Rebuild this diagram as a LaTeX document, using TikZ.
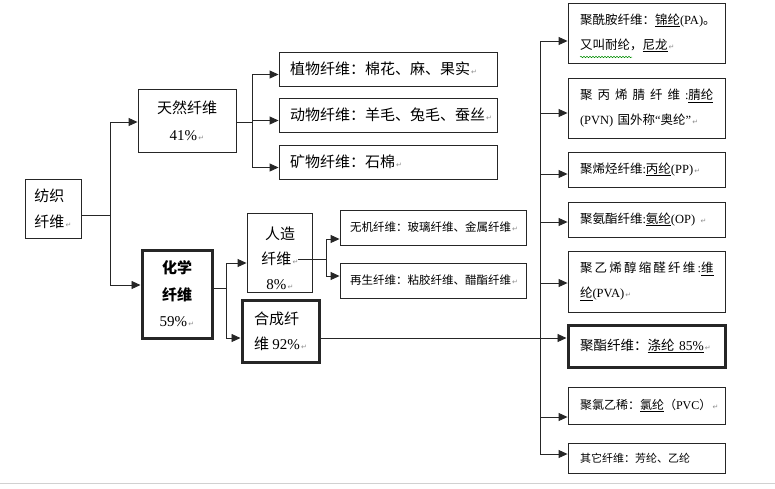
\documentclass[tikz,border=0pt]{standalone}
\usepackage{fontspec}
\setmainfont{Liberation Serif}
\newfontfamily\cjk{Noto Sans CJK SC}
\newfontfamily\symf{DejaVu Sans}
\usetikzlibrary{arrows.meta,calc,decorations.pathmorphing}

\newcommand\lat[1]{{\rmfamily #1}}
\newcommand\pmk{{\symf\fontsize{7}{7}\selectfont\color{black!45}\,↵}}
\newcommand\gp{\kern5pt}
\newcommand\gq{\kern2.2pt}

\tikzset{
  box/.style={draw=black!85, line width=0.9pt, inner sep=0pt, text=black},
  heavy/.style={box, line width=3pt},
  big/.style={font=\cjk\fontsize{15}{26}\selectfont, align=center},
  mid/.style={font=\cjk\fontsize{12.5}{25}\selectfont, align=left},
  small/.style={font=\cjk\fontsize{11.5}{14}\selectfont, align=left},
  sz/.style 2 args={minimum width=#1pt, minimum height=#2pt},
  tw/.style={align=left, text width=#1pt},
  link/.style={draw=black!85, line width=0.9pt},
  arr/.style={link, -{Triangle[length=9pt,width=8pt]}},
}

\begin{document}
\begin{tikzpicture}[x=1pt, y=-1pt]
  \useasboundingbox (0,0) rectangle (775,488);

  % left part
  \node[box, big, align=left, sz={56}{59}] (fz) at (53,208.5) {纺织\\纤维\pmk};
  \node[box, big, sz={98}{63}, font=\cjk\fontsize{15}{27}\selectfont] (tr) at (187,120.5) {天然纤维\\\lat{41\%}\pmk};
  \node[heavy, big, sz={70}{88}, font=\cjk\bfseries\fontsize{15}{26.5}\selectfont] (hx) at (177,294) {化学\\纤维\\\mdseries\lat{59\%}\pmk};

  \node[box, sz={65}{79}] (rz) at (279.5,252.5) {};
  \node[big, font=\cjk\fontsize{15}{25}\selectfont] (rzt) at (280,258) {人造\\纤维\pmk\\\lat{8\%}\pmk};
  \node[heavy, big, align=left, sz={77}{62}, font=\cjk\fontsize{15}{25}\selectfont] (hc) at (280.5,331) {合成纤\\维~\lat{92\%}\pmk};

  % middle part
  \node[box, big, tw=196, sz={218}{34}] (zw) at (388,69) {植物纤维：棉花、麻、果实\pmk};
  \node[box, big, tw=196, sz={218}{34}] (dw) at (388,115) {动物纤维：羊毛、兔毛、蚕丝\pmk};
  \node[box, big, tw=196, sz={218}{34}] (kw) at (388,162) {矿物纤维：石棉\pmk};
  \node[box, small, tw=166, sz={186}{35}] (wj) at (433,227.5) {无机纤维：玻璃纤维、金属纤维\pmk};
  \node[box, small, tw=166, sz={186}{35}] (zs) at (433,280.5) {再生纤维：粘胶纤维、醋酯纤维\pmk};

  % right part
  \node[box, mid, tw=133, sz={157}{60}] (b1) at (646.5,33) {聚酰胺纤维：\underline{锦纶}\lat{(PA)}。\\又叫耐纶，\underline{尼龙}\pmk};
  \node[box, mid, tw=133, sz={157}{60}] (b2) at (646.5,108) {聚\gp 丙\gp 烯\gp 腈\gp 纤\gp 维\gp\lat{:}\underline{腈纶}\\\lat{(PVN)}~国外称\lat{“}奥纶\lat{”}\pmk};
  \node[box, mid, tw=133, sz={157}{35}] (b3) at (646.5,169.5) {聚烯烃纤维\lat{:}\underline{丙纶}\lat{(PP)}\pmk};
  \node[box, mid, tw=133, sz={157}{35}] (b4) at (646.5,219.5) {聚氨酯纤维\lat{:}\underline{氨纶}\lat{(OP)}~\pmk};
  \node[box, mid, tw=133, sz={157}{61}] (b5) at (646.5,281.5) {聚\gq 乙\gq 烯\gq 醇\gq 缩\gq 醛\gq 纤\gq 维\gq\lat{:}\underline{维}\\\underline{纶}\lat{(PVA)}\pmk};
  \node[heavy, mid, tw=133, sz={157}{42}, font=\cjk\fontsize{13.5}{16}\selectfont] (b6) at (646.5,346) {聚酯纤维：\underline{涤纶~\lat{85\%}}\pmk};
  \node[box, mid, tw=133, sz={157}{37}, font=\cjk\fontsize{12}{15}\selectfont] (b7) at (646.5,405.5) {聚氯乙稀：\underline{氯纶}（\lat{PVC}）\pmk};
  \node[box, mid, tw=133, sz={157}{30}, font=\cjk\fontsize{11}{13}\selectfont] (b8) at (646.5,458) {其它纤维：芳纶、乙纶};

  % links
  \coordinate (t1) at (110,215);
  \draw[link] (t1 -| fz.east) -- (t1);
  \draw[arr] (t1) |- ($(tr.west)+(0,1.5)$);
  \draw[arr] (t1) |- ($(hx.west)+(0,-9)$);

  \coordinate (t2) at (252,122);
  \draw[link] (t2 -| tr.east) -- (t2);
  \foreach \n in {zw,dw,kw} \draw[arr] (t2) |- ($(\n.west)+(0,5.5)$);

  \coordinate (t3) at (226,288);
  \draw[link] (t3 -| hx.east) -- (t3);
  \draw[arr] (t3) |- ($(rz.west)+(0,10.5)$);
  \draw[arr] (t3) |- ($(hc.west)+(0,7)$);

  \coordinate (t4s) at (298,259);
  \coordinate (t4) at (326,259);
  \draw[link] (t4s) -- (t4);
  \draw[arr] (t4) |- ($(wj.west)+(0,11.5)$);
  \draw[arr] (t4) |- ($(zs.west)+(0,-4.5)$);

  \coordinate (t5) at (540,338);
  \draw[arr] (t5 -| hc.east) -- ($(b6.west)+(0,-8)$);
  \foreach \n/\dy in {b1/8,b2/5,b3/4.5,b4/2.5,b5/1.5,b7/11.5,b8/-4}
    \draw[arr] (t5) |- ($(\n.west)+(0,\dy)$);

  % spell mark and page edge
  \draw[green!55!black, line width=0.5pt, decorate, decoration={snake, amplitude=0.7pt, segment length=3pt}] (580,57) -- (632,57);
  \draw[black!18, line width=1pt] (0,483) -- (775,483);
\end{tikzpicture}
\end{document}
